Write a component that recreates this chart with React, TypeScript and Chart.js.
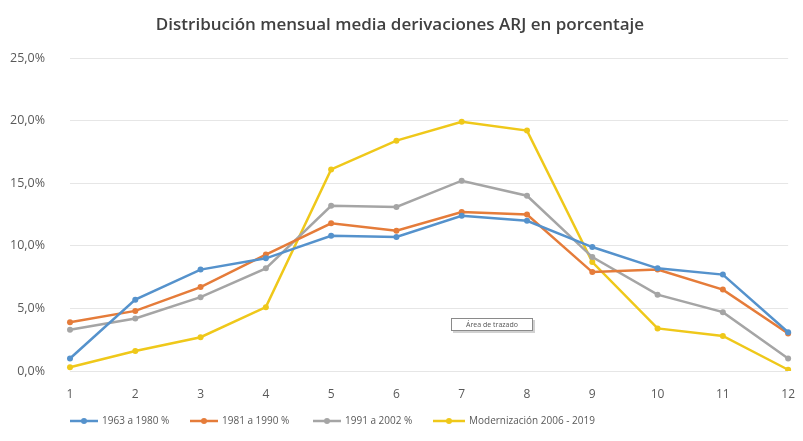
import { useEffect, useRef } from 'react';
import { Chart, registerables } from 'chart.js';
Chart.register(...registerables);

const TITLE = 'Distribución mensual media derivaciones ARJ en porcentaje';
const MONTHS = ['1', '2', '3', '4', '5', '6', '7', '8', '9', '10', '11', '12'];
const SERIES_NAMES = ['1963 a 1980 %', '1981 a 1990 %', '1991 a 2002 %', 'Modernización 2006 - 2019'];
const S_1963_1980 = [1.0, 5.7, 8.1, 9.0, 10.8, 10.7, 12.4, 12.0, 9.9, 8.2, 7.7, 3.1];
const S_1981_1990 = [3.9, 4.8, 6.7, 9.3, 11.8, 11.2, 12.7, 12.5, 7.9, 8.1, 6.5, 3.0];
const S_1991_2002 = [3.3, 4.2, 5.9, 8.2, 13.2, 13.1, 15.2, 14.0, 9.1, 6.1, 4.7, 1.0];
const S_MODERN = [0.3, 1.6, 2.7, 5.1, 16.1, 18.4, 19.9, 19.2, 8.7, 3.4, 2.8, 0.1];
const Y_TICKS_MAX = 25;
const Y_STEP = 5;
const HOVER_LABEL = 'Área de trazado';

const COLORS = ['#5592cc', '#e57c3a', '#a5a5a5', '#efc81a'];
const FONT = '"Open Sans", "Liberation Sans", sans-serif';

const decor = {
  id: 'decor',
  afterDraw(chart: any) {
    const ctx = chart.ctx as CanvasRenderingContext2D;
    ctx.save();
    // title
    ctx.fillStyle = '#404040';
    ctx.font = `600 17px ${FONT}`;
    ctx.textAlign = 'center';
    ctx.textBaseline = 'middle';
    ctx.fillText(TITLE, 400, 25);

    // legend
    const starts = [70, 190, 313, 433];
    ctx.font = `10px ${FONT}`;
    ctx.textAlign = 'left';
    const ly = 421;
    SERIES_NAMES.forEach((name, i) => {
      const x = starts[i];
      const len = i === 3 ? 32 : 28;
      ctx.strokeStyle = COLORS[i];
      ctx.lineWidth = 2.5;
      ctx.beginPath();
      ctx.moveTo(x, ly);
      ctx.lineTo(x + len, ly);
      ctx.stroke();
      ctx.fillStyle = COLORS[i];
      ctx.beginPath();
      ctx.arc(x + len / 2, ly, 3, 0, Math.PI * 2);
      ctx.fill();
      ctx.fillStyle = '#595959';
      ctx.fillText(name, x + len + 4, ly + 0.5);
    });

    // hover label box
    const bx = 451, by = 318, bw = 82, bh = 13;
    ctx.fillStyle = 'rgba(0,0,0,0.18)';
    ctx.fillRect(bx + 2, by + 2, bw, bh);
    ctx.fillStyle = '#ffffff';
    ctx.fillRect(bx, by, bw, bh);
    ctx.strokeStyle = '#8a8a8a';
    ctx.lineWidth = 1;
    ctx.strokeRect(bx + 0.5, by + 0.5, bw - 1, bh - 1);
    ctx.fillStyle = '#555555';
    ctx.font = `7px ${FONT}`;
    ctx.textAlign = 'center';
    ctx.fillText(HOVER_LABEL, bx + bw / 2, by + bh / 2 + 0.5);
    ctx.restore();
  },
};

export default function App() {
  const ref = useRef<HTMLCanvasElement>(null);
  useEffect(() => {
    const all = [S_1963_1980, S_1981_1990, S_1991_2002, S_MODERN];
    const chart = new Chart(ref.current!, {
      type: 'line',
      data: {
        labels: MONTHS,
        datasets: all.map((d, i) => ({
          label: SERIES_NAMES[i],
          data: d,
          borderColor: COLORS[i],
          backgroundColor: COLORS[i],
          borderWidth: 2.5,
          pointRadius: 3,
          pointBorderWidth: 0,
          pointBackgroundColor: COLORS[i],
          tension: 0,
          fill: false,
        })),
      },
      options: {
        responsive: false,
        animation: false,
        layout: { padding: { top: 58, right: 8, left: 0, bottom: 0 } },
        plugins: {
          legend: { display: false },
          tooltip: { enabled: false },
          title: { display: false },
        },
        scales: {
          x: {
            offset: false,
            grid: { display: false },
            border: { display: false },
            ticks: {
              padding: 8,
              color: '#595959',
              font: { size: 12, family: FONT },
              maxRotation: 0,
              autoSkip: false,
            },
            afterFit: (s: any) => {
              s.height = 70;
            },
          },
          y: {
            min: 0,
            max: Y_TICKS_MAX,
            ticks: {
              stepSize: Y_STEP,
              padding: 25,
              color: '#595959',
              font: { size: 12.5, family: FONT },
              callback: (v: any) => Number(v).toFixed(1).replace('.', ',') + '%',
            },
            grid: { color: '#e6e6e6', drawTicks: false, lineWidth: 1 },
            border: { display: false },
            afterFit: (s: any) => {
              s.width = 70;
            },
          },
        },
      },
      plugins: [decor],
    });
    return () => chart.destroy();
  }, []);
  return (
    <div style={{ position: 'absolute', left: 0, top: 0, width: 803, height: 441, background: '#fff' }}>
      <canvas ref={ref} width={803} height={441} style={{ display: 'block' }} />
    </div>
  );
}
